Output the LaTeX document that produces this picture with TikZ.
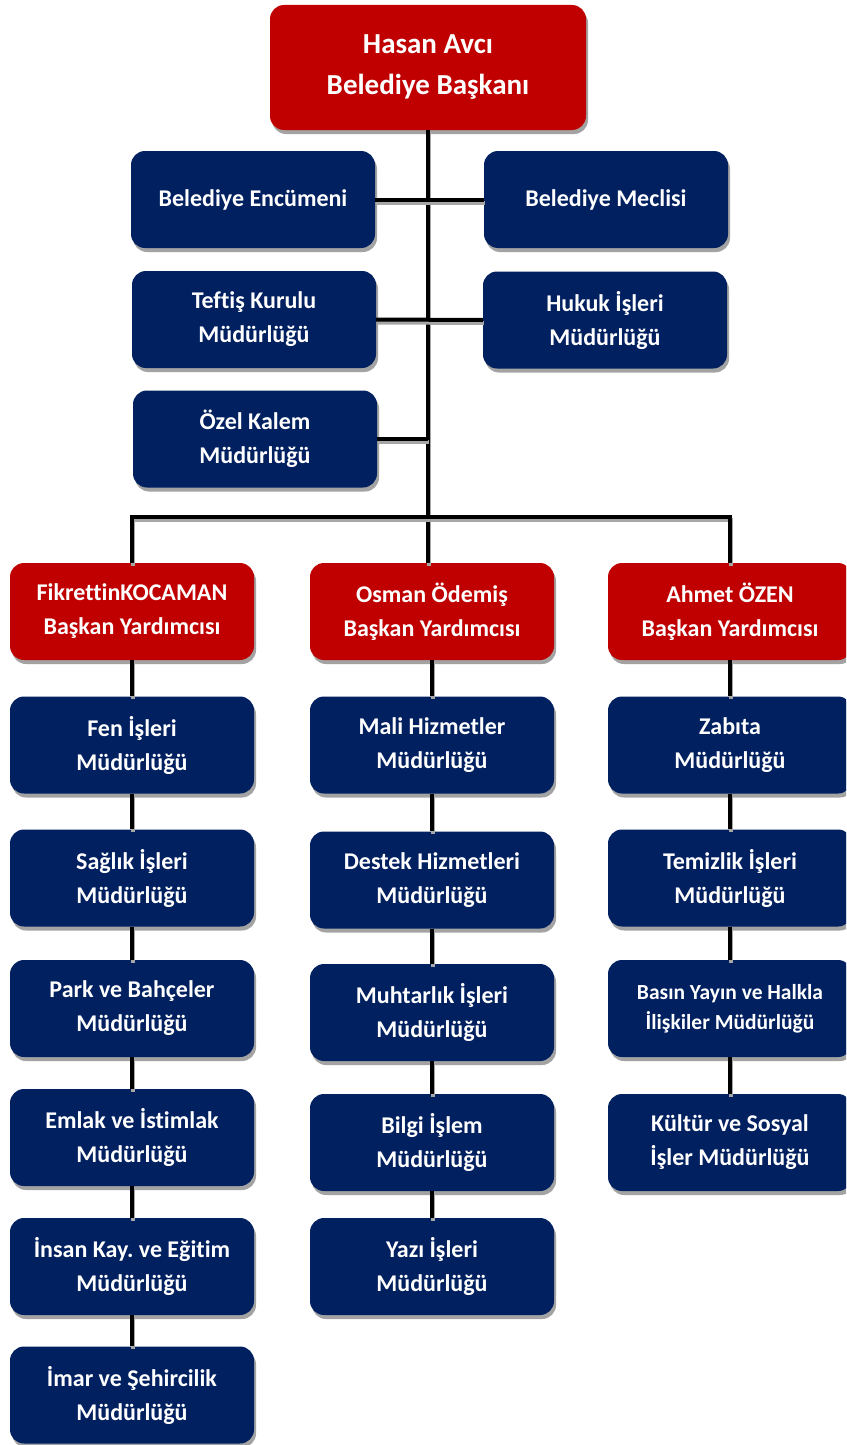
\documentclass[tikz,border=0pt]{standalone}
\usepackage{fontspec}
\setmainfont{Carlito}[Ligatures=NoCommon]
\usetikzlibrary{shadows}
\definecolor{baskanred}{HTML}{C00000}
\definecolor{birimblue}{HTML}{002060}
\tikzset{
  every kutu/.style={rounded corners=14pt, inner sep=0pt, align=center, text=white,
    font=\bfseries\fontsize{24}{34}\selectfont,
    minimum width=244pt, minimum height=97pt,
    drop shadow={shadow xshift=2pt, shadow yshift=-4pt, fill=black!45, opacity=0.8}},
  baskan/.style={every kutu, fill=baskanred},
  birim/.style={every kutu, fill=birimblue},
  baglanti/.style={line width=4pt, black,
    preaction={draw=black!35, line width=4pt, transform canvas={xshift=1pt, yshift=-3pt}}}
}
\frenchspacing

\begin{document}
\begin{tikzpicture}[x=1pt, y=-1pt]
\useasboundingbox (0,0) rectangle (846,1445);
\clip (0,0) rectangle (846,1445);
% ust kademe
\node[baskan, minimum width=316pt, minimum height=125pt, font=\bfseries\fontsize{29}{41}\selectfont] (hasan) at (428,67.5) {Hasan Avcı\\Belediye Başkanı};
\node[birim] (encumen) at (253,199.5) {Belediye Encümeni};
\node[birim] (meclis) at (606,199.5) {Belediye Meclisi};
\node[birim] (teftis) at (254,319.5) {Teftiş Kurulu\\Müdürlüğü};
\node[birim] (hukuk) at (605,320) {Hukuk İşleri\\Müdürlüğü};
\node[birim] (ozel) at (255,439) {Özel Kalem\\Müdürlüğü};
% baskan yardimcilari
\node[baskan] (fikrettin) at (132,611.5) {FikrettinKOCAMAN\\Başkan Yardımcısı};
\node[baskan] (osman) at (432,611.5) {Osman Ödemiş\\Başkan Yardımcısı};
\node[baskan] (ahmet) at (730,611.5) {Ahmet ÖZEN\\Başkan Yardımcısı};
% sol sutun
\node[birim] (fen) at (132,745) {Fen İşleri\\Müdürlüğü};
\node[birim] (saglik) at (132,878) {Sağlık İşleri\\Müdürlüğü};
\node[birim] (park) at (132,1008.5) {Park ve Bahçeler\\Müdürlüğü};
\node[birim] (emlak) at (132,1137.5) {Emlak ve İstimlak\\Müdürlüğü};
\node[birim] (insan) at (132,1266.5) {İnsan Kay. ve Eğitim\\Müdürlüğü};
\node[birim] (imar) at (132,1395) {İmar ve Şehircilik\\Müdürlüğü};
% orta sutun
\node[birim] (mali) at (432,745) {Mali Hizmetler\\Müdürlüğü};
\node[birim] (destek) at (432,880) {Destek Hizmetleri\\Müdürlüğü};
\node[birim] (muhtar) at (432,1012.5) {Muhtarlık İşleri\\Müdürlüğü};
\node[birim] (bilgi) at (432,1142.5) {Bilgi İşlem\\Müdürlüğü};
\node[birim] (yazi) at (432,1266.5) {Yazı İşleri\\Müdürlüğü};
% sag sutun
\node[birim] (zabita) at (730,745) {Zabıta\\Müdürlüğü};
\node[birim] (temizlik) at (730,878) {Temizlik İşleri\\Müdürlüğü};
\node[birim, font=\bfseries\fontsize{21.5}{30}\selectfont] (basin) at (730,1008.5) {Basın Yayın ve Halkla\\İlişkiler Müdürlüğü};
\node[birim] (kultur) at (730,1142.5) {Kültür ve Sosyal\\İşler Müdürlüğü};

\coordinate (bus) at (428,517);
% baglantilar
\draw[baglanti] (hasan.south) -- (bus) -- (bus |- osman.north);
\draw[baglanti] (encumen.east) -- (meclis.west);
\draw[baglanti] (teftis.east) -- (hukuk.west);
\draw[baglanti] (ozel.east) -- (ozel.east -| bus);
\draw[baglanti] (fikrettin.north) -- (fikrettin.north |- bus) -- (ahmet.north |- bus) -- (ahmet.north);
\foreach \a/\b in {fikrettin/fen, fen/saglik, saglik/park, park/emlak, emlak/insan, insan/imar,
    osman/mali, mali/destek, destek/muhtar, muhtar/bilgi, bilgi/yazi,
    ahmet/zabita, zabita/temizlik, temizlik/basin, basin/kultur}
  \draw[baglanti] (\a.south) -- (\b.north);
\end{tikzpicture}
\end{document}
